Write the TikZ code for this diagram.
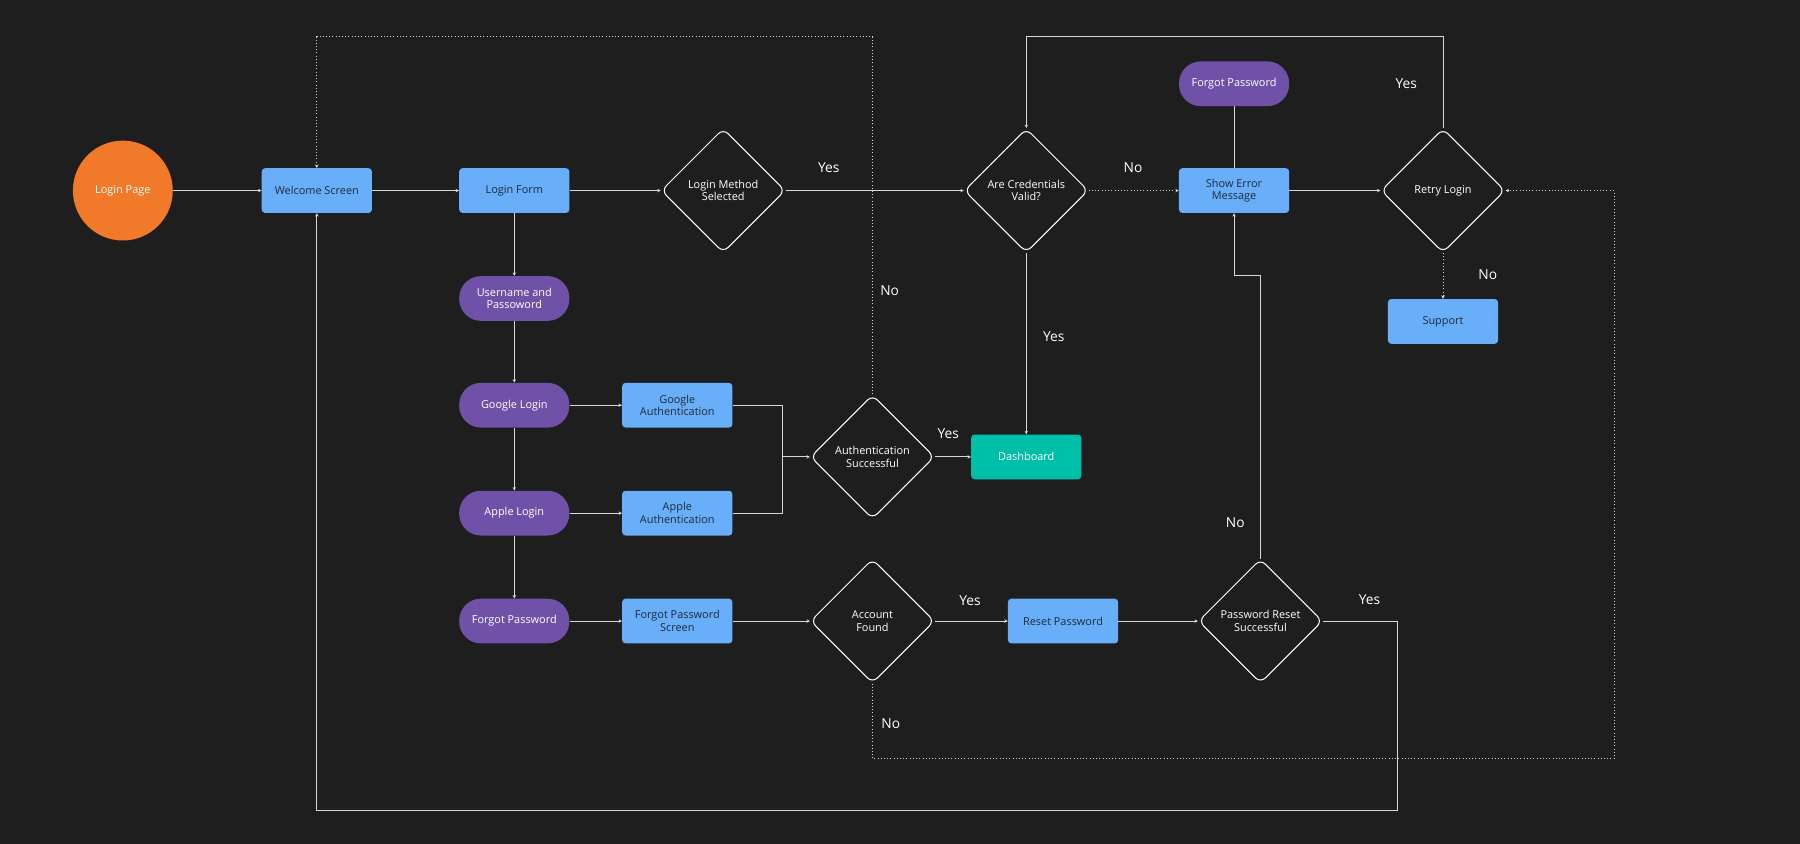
\documentclass[tikz,border=0pt]{standalone}
\usepackage{fontspec}
\setmainfont{Open Sans}
\usetikzlibrary{shapes.geometric,arrows.meta}
\definecolor{bg}{HTML}{1E1E1E}
\definecolor{bl}{HTML}{69AEF8}
\definecolor{pu}{HTML}{7051A8}
\definecolor{orng}{HTML}{F07A2A}
\definecolor{teal}{HTML}{00BFA8}
\definecolor{dk}{HTML}{1F2A3A}
\definecolor{ln}{HTML}{D8D8D8}
\begin{document}
\begin{tikzpicture}[x=1pt,y=-1pt,
  box/.style={draw=none,fill=bl,rounded corners=3pt,minimum width=96pt,minimum height=39pt,text=dk,font=\fontsize{9.5}{11}\selectfont,align=center,inner sep=1pt},
  pill/.style={fill=pu,rounded corners=19pt,minimum width=96pt,minimum height=39pt,text=white,font=\fontsize{9.5}{11}\selectfont,align=center,inner sep=1pt},
  dia/.style={diamond,draw=white,line width=0.9pt,rounded corners=6pt,minimum width=108pt,minimum height=108pt,text=white,font=\fontsize{9.5}{11}\selectfont,align=center,inner sep=0pt},
  ar/.style={draw=ln,line width=0.8pt,-{Stealth[length=3pt,width=3pt]}},
  pl/.style={draw=ln,line width=0.8pt},
  dt/.style={dotted},
  lb/.style={text=white,font=\fontsize{12}{14}\selectfont}]
\fill[bg] (0,0) rectangle (1568,735);
\useasboundingbox (0,0) rectangle (1568,735);
\node[circle,fill=orng,minimum size=87pt,text=white,font=\fontsize{9.5}{11}\selectfont] (lp) at (107,166) {Login Page};
\node[box] (ws) at (276,166) {Welcome Screen};
\node[box] (lf) at (448,166) {Login Form};
\node[dia] (lm) at (630,166) {Login Method\\Selected};
\node[dia] (cv) at (894,166) {Are Credentials\\Valid?};
\node[box] (se) at (1075,166) {Show Error\\Message};
\node[pill] (fp1) at (1075,73) {Forgot Password};
\node[dia] (rl) at (1257,166) {Retry Login};
\node[box] (sp) at (1257,280) {Support};
\node[pill] (up) at (448,260) {Username and\\Passoword};
\node[pill] (gl) at (448,353) {Google Login};
\node[box] (ga) at (590,353) {Google\\Authentication};
\node[pill] (al) at (448,447) {Apple Login};
\node[box] (aa) at (590,447) {Apple\\Authentication};
\node[pill] (fp) at (448,541) {Forgot Password};
\node[box] (fs) at (590,541) {Forgot Password\\Screen};
\node[dia] (as) at (760,398) {Authentication\\Successful};
\node[box,fill=teal,text=white] (db) at (894,398) {Dashboard};
\node[dia] (af) at (760,541) {Account\\Found};
\node[box] (rp) at (926,541) {Reset Password};
\node[dia] (pr) at (1098,541) {Password Reset\\Successful};
\coordinate (j) at (682,398);
\draw[ar] (lp) -- (ws);
\draw[ar] (ws) -- (lf);
\draw[ar] (lf) -- (lm);
\draw[ar] (lm) -- (cv);
\draw[ar,dt] (cv) -- (se);
\draw[ar] (se) -- (rl);
\draw[ar] (rl.north) |- (894,32) -- (cv.north);
\draw[ar,dt] (rl) -- (sp);
\draw[pl] (fp1) -- (se);
\draw[ar] (cv) -- (db);
\draw[ar] (lf) -- (up);
\draw[ar] (up) -- (gl);
\draw[ar] (gl) -- (al);
\draw[ar] (al) -- (fp);
\draw[ar] (gl) -- (ga);
\draw[ar] (al) -- (aa);
\draw[ar] (fp) -- (fs);
\draw[pl] (ga.east) -| (j);
\draw[pl] (aa.east) -| (j);
\draw[ar] (j) -- (as);
\draw[ar] (as) -- (db);
\draw[ar,dt] (as.north) |- (276,32) -- (ws.north);
\draw[ar] (fs) -- (af);
\draw[ar] (af) -- (rp);
\draw[ar,dt] (af.south) |- (1406,661) |- (rl.east);
\draw[ar] (rp) -- (pr);
\draw[ar] (pr.north) |- (1075,240) -- (se.south);
\draw[ar] (pr.east) -| (1217,706) -| (ws.south);
\node[lb] at (722,146) {Yes};
\node[lb] at (987,146) {No};
\node[lb] at (1225,73) {Yes};
\node[lb] at (1296,239) {No};
\node[lb] at (918,293) {Yes};
\node[lb] at (826,378) {Yes};
\node[lb] at (775,253) {No};
\node[lb] at (845,523) {Yes};
\node[lb] at (776,630) {No};
\node[lb] at (1076,455) {No};
\node[lb] at (1193,522) {Yes};
\end{tikzpicture}
\end{document}
